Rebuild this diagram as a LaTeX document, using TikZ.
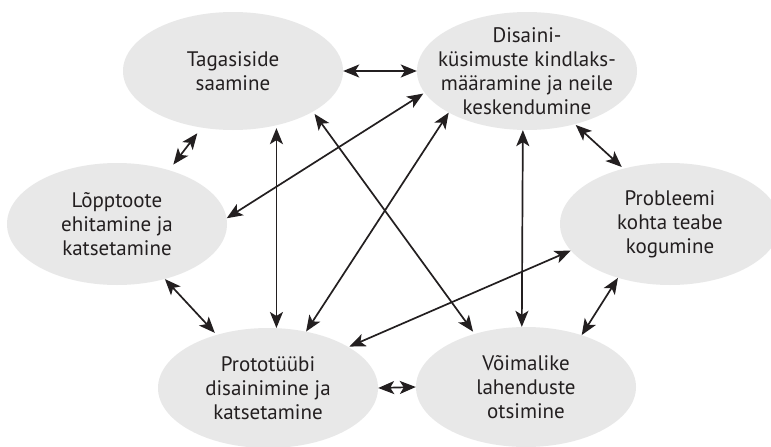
\documentclass[tikz,border=0pt]{standalone}
\usepackage{fontspec}
\setmainfont{PT Sans}
\usetikzlibrary{shapes.geometric,arrows.meta}
\definecolor{ellfill}{RGB}{232,232,232}
\definecolor{ink}{RGB}{35,31,32}
\begin{document}
\begin{tikzpicture}[x=1pt,y=-1pt,
  ell/.style={ellipse,fill=ellfill,draw=none,inner sep=0pt,minimum width=220pt,minimum height=#1},
  ell/.default=120pt,
  txt/.style={align=center,text=ink,font=\fontsize{21}{24}\selectfont,inner sep=0pt},
  tip/.style={Stealth[length=16pt,width=13pt,inset=4pt]},
  arr/.style={ink,line width=1.7pt,{Stealth[length=16pt,width=13pt,inset=4pt]}-{Stealth[length=16pt,width=13pt,inset=4pt]}}]
\clip (0,0) rectangle (771,447);
\fill[white] (0,0) rectangle (771,447);
\node[ell=118pt,label={[txt]center:Tagasiside\\saamine}] (T) at (233,71) {};
\node[ell=118pt,label={[txt]center:Disaini-\\küsimuste kindlaks-\\määramine ja neile\\keskendumine}] (D) at (527,71) {};
\node[ell=122pt,label={[txt]center:Lõpptoote\\ehitamine ja\\katsetamine}] (L) at (117,224) {};
\node[ell=122pt,label={[txt]center:Probleemi\\kohta teabe\\kogumine}] (P) at (670,224) {};
\node[ell=120pt,label={[txt]center:Prototüübi\\disainimine ja\\katsetamine}] (Pr) at (268,388) {};
\node[ell=120pt,label={[txt]center:Võimalike\\lahenduste\\otsimine}] (V) at (526,387) {};
% connectors
\draw[arr] (T.east) -- (D.west);
\draw[arr,shorten <=7pt,shorten >=7pt] (T.-119) -- (L.46.5);
\draw[arr,shorten <=1.5pt] (D.-168) -- (L.3);
\draw[arr,shorten <=2.3pt] (Pr.82.4 |- T.-53) -- (Pr.82.4);
\draw[arr,shorten <=2.7pt,shorten >=2.6pt] (T.-27) -- (V.134);
\draw[arr] (D.-152) -- (Pr.56.5);
\draw[arr] (D.-94.8) -- (V.94.8);
\draw[arr,shorten <=1pt,shorten >=2.3pt] (D.-48.4) -- (P.130);
\draw[arr,shorten >=2.6pt] (L.-49) -- (Pr.134);
\draw[arr,shorten <=0.9pt] (Pr.27.7) -- (P.-165.4);
\draw[arr] (P.-134) -- (V.43);
\draw[arr] (Pr.east) -- (V.west);
\end{tikzpicture}
\end{document}
